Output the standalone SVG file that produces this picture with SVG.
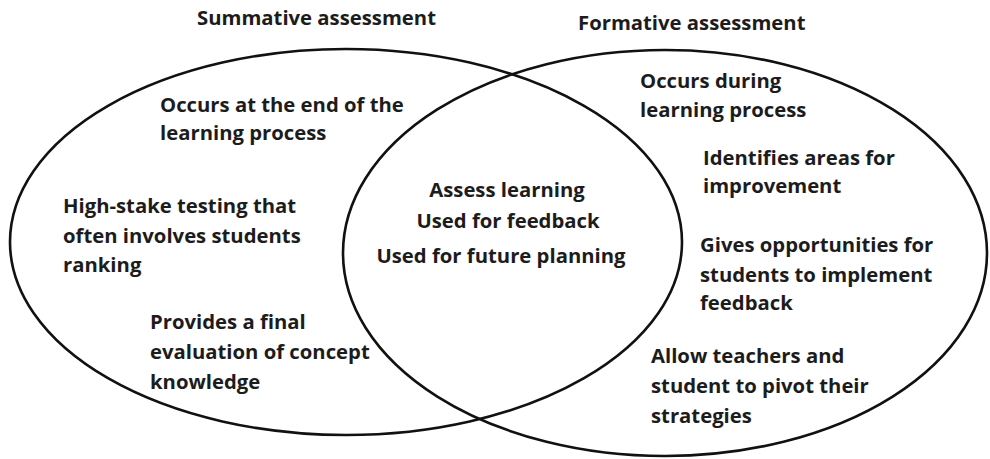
<svg xmlns="http://www.w3.org/2000/svg" width="990" height="459" viewBox="0 0 990 459">
  <style>
    .set { fill: none; stroke: #111; stroke-width: 2.6; }
    text { font-family: "Open Sans", Lato, "Liberation Sans", sans-serif; font-weight: bold; font-size: 20.3px; fill: #1c1c1c; }
    .mid { text-anchor: middle; }
  </style>
  <rect width="990" height="459" fill="#fff"/>

  <!-- the two overlapping sets -->
  <g id="connectors"/>
  <g id="summative">
    <ellipse class="set" cx="346" cy="242" rx="336" ry="193"/>
    <text x="197" y="25">Summative assessment</text>
    <text x="160" y="112">Occurs at the end of the</text>
    <text x="160" y="140">learning process</text>
    <text x="63" y="213">High-stake testing that</text>
    <text x="63" y="243">often involves students</text>
    <text x="63" y="272">ranking</text>
    <text x="150" y="329">Provides a final</text>
    <text x="150" y="359">evaluation of concept</text>
    <text x="150" y="389">knowledge</text>
  </g>
  <g id="formative">
    <ellipse class="set" cx="665" cy="253" rx="322" ry="203"/>
    <text x="578" y="30">Formative assessment</text>
    <text x="640" y="88">Occurs during</text>
    <text x="640" y="117">learning process</text>
    <text x="703" y="165">Identifies areas for</text>
    <text x="703" y="193">improvement</text>
    <text x="700" y="252">Gives opportunities for</text>
    <text x="700" y="282">students to implement</text>
    <text x="700" y="310">feedback</text>
    <text x="651" y="363">Allow teachers and</text>
    <text x="651" y="393">student to pivot their</text>
    <text x="651" y="423">strategies</text>
  </g>
  <g id="overlap">
    <text class="mid" x="507" y="197">Assess learning</text>
    <text class="mid" x="508" y="228">Used for feedback</text>
    <text class="mid" x="501" y="263">Used for future planning</text>
  </g>
</svg>
